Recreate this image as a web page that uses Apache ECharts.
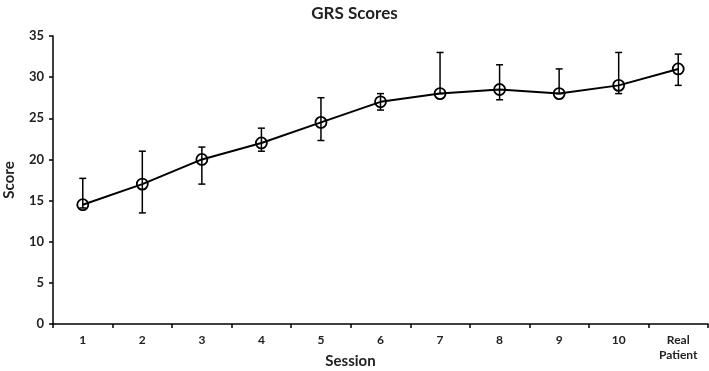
<!DOCTYPE html>
<html>
<head>
<meta charset="utf-8">
<script src="https://cdn.jsdelivr.net/npm/echarts@6/dist/echarts.min.js"></script>
<style>
  html, body { margin: 0; padding: 0; background: #fff; }
  #chart { width: 709px; height: 371px; }
</style>
</head>
<body>
<div id="chart"></div>
<script>
  // data
  const sessions = ['1', '2', '3', '4', '5', '6', '7', '8', '9', '10', 'Real\nPatient'];
  const scores = [14.5, 17, 20, 22, 24.5, 27, 28, 28.5, 28, 29, 31];
  const upper = [17.7, 21, 21.5, 23.8, 27.5, 28, 33, 31.5, 31, 33, 32.8];
  const lower = [14.1, 13.5, 17, 21, 22.3, 26, 28, 27.25, 28, 28, 29];
  const yTicks = [0, 5, 10, 15, 20, 25, 30, 35];

  const chart = echarts.init(document.getElementById('chart'));
  const font = 'Lato, "Open Sans", sans-serif';

  const errData = sessions.map(function (s, i) { return [i, lower[i], upper[i]]; });

  chart.setOption({
    animation: false,
    title: {
      text: 'GRS Scores',
      left: 'center',
      top: 0,
      textStyle: { fontFamily: font, fontSize: 17, fontWeight: 'bold', color: '#222' }
    },
    grid: { left: 53, right: 1, top: 36, bottom: 47, outerBoundsMode: 'none', containLabel: false },
    xAxis: {
      type: 'category',
      data: sessions,
      name: 'Session',
      nameLocation: 'middle',
      nameGap: 30,
      nameMoveOverlap: false,
      nameTextStyle: { fontFamily: font, fontSize: 15, fontWeight: 'bold', color: '#222', padding: [0, 60, 0, 0] },
      axisLine: { lineStyle: { color: '#000', width: 1.5 } },
      axisTick: { show: true, length: 4, lineStyle: { color: '#000', width: 1.5 } },
      axisLabel: { fontFamily: font, fontSize: 12, fontWeight: 'bold', color: '#222', margin: 9, lineHeight: 15 },
      splitLine: { show: false }
    },
    yAxis: {
      type: 'value',
      min: yTicks[0],
      max: yTicks[yTicks.length - 1],
      interval: 5,
      name: 'Score',
      nameLocation: 'middle',
      nameGap: 36,
      nameMoveOverlap: false,
      nameRotate: 90,
      nameTextStyle: { fontFamily: font, fontSize: 15, fontWeight: 'bold', color: '#222' },
      axisLine: { show: true, lineStyle: { color: '#000', width: 1.5 } },
      axisTick: { show: true, length: 4, lineStyle: { color: '#000', width: 1.5 } },
      axisLabel: { fontFamily: font, fontSize: 13, fontWeight: 'bold', color: '#222', margin: 9 },
      splitLine: { show: false }
    },
    series: [
      {
        type: 'line',
        data: scores,
        symbol: 'circle',
        symbolSize: 11,
        z: 3,
        lineStyle: { color: '#000', width: 2 },
        itemStyle: { color: 'rgba(0,0,0,0)', borderColor: '#000', borderWidth: 1.8 }
      },
      {
        type: 'custom',
        z: 4,
        data: errData,
        renderItem: function (params, api) {
          const x = api.value(0);
          const lo = api.coord([x, api.value(1)]);
          const hi = api.coord([x, api.value(2)]);
          const w = 3.5;
          const st = { stroke: '#000', lineWidth: 1.5 };
          return {
            type: 'group',
            children: [
              { type: 'line', shape: { x1: lo[0], y1: lo[1], x2: hi[0], y2: hi[1] }, style: st },
              { type: 'line', shape: { x1: lo[0] - w, y1: lo[1], x2: lo[0] + w, y2: lo[1] }, style: st },
              { type: 'line', shape: { x1: hi[0] - w, y1: hi[1], x2: hi[0] + w, y2: hi[1] }, style: st }
            ]
          };
        }
      }
    ]
  });
</script>
</body>
</html>
